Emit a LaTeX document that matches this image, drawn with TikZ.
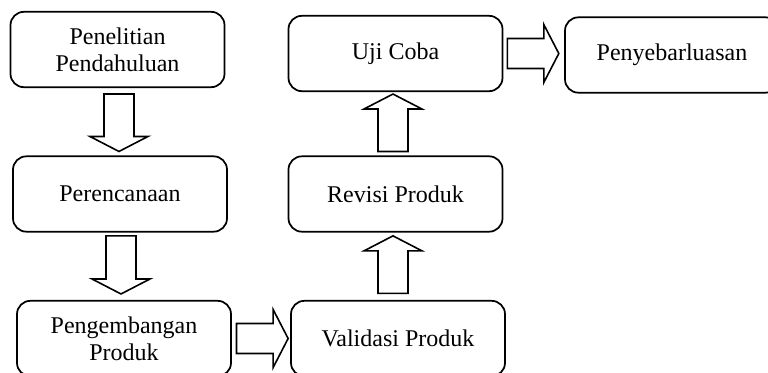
\documentclass[tikz,border=0pt]{standalone}
\usepackage{fontspec}
\setmainfont{Liberation Serif}
\usetikzlibrary{calc}
\tikzset{
  tahap/.style={draw, line width=1.3pt, rounded corners=10pt, fill=white,
    minimum width=160.5pt, minimum height=56.5pt, align=center, inner sep=0pt,
    font=\fontsize{18}{20.25}\selectfont},
  panah/.style={draw, fill=white, line width=1.2pt, line join=miter,
    to path={(\tikztostart) coordinate (ps) (\tikztotarget) coordinate (pe)
      ($(ps)!11.25pt!90:(pe)$)
      -- ($(pe)!11.25pt!(ps)!11.25pt!90:(pe)$)
      -- ($(pe)!11.25pt!(ps)!21.75pt!90:(pe)$)
      -- (pe)
      -- ($(pe)!11.25pt!(ps)!21.75pt!-90:(pe)$)
      -- ($(pe)!11.25pt!(ps)!11.25pt!-90:(pe)$)
      -- ($(ps)!11.25pt!-90:(pe)$) -- cycle}}
}
\begin{document}
\begin{tikzpicture}[x=0.75pt,y=-0.75pt]
\clip (0,0) rectangle (768,372);
\node[tahap] (awal) at (117.5,49.5) {Penelitian\\Pendahuluan};
\node[tahap] (rencana) at (120,194) {Perencanaan};
\node[tahap] (kembang) at (124,338.5) {Pengembangan\\Produk};
\node[tahap] (validasi) at (398,338.5) {Validasi Produk};
\node[tahap] (revisi) at (395.5,194) {Revisi Produk};
\node[tahap] (uji) at (395.5,53.5) {Uji Coba};
\node[tahap] (sebar) at (672,55) {Penyebarluasan};
\coordinate (p1) at ([shift={(1.1pt,-4.5pt)}]awal.south);
\coordinate (p2) at ([shift={(0.75pt,-2.5pt)}]rencana.south);
\coordinate (p3) at ([xshift=3.5pt]kembang.east);
\coordinate (p4) at ([shift={(-3.75pt,5pt)}]validasi.north);
\coordinate (p5) at ([shift={(-1.9pt,3pt)}]revisi.north);
\coordinate (p6) at ([xshift=3pt]uji.east);
\draw[panah] (p1) to ([yshift=3pt]p1 |- rencana.north);
\draw[panah] (p2) to ([yshift=4.5pt]p2 |- kembang.north);
\draw[panah] (p3) to ([xshift=-1.5pt]p3 -| validasi.west);
\draw[panah] (p4) to ([yshift=-2.5pt]p4 |- revisi.south);
\draw[panah] (p5) to ([yshift=-1.5pt]p5 |- uji.south);
\draw[panah] (p6) to ([xshift=-4pt]p6 -| sebar.west);
\end{tikzpicture}
\end{document}
